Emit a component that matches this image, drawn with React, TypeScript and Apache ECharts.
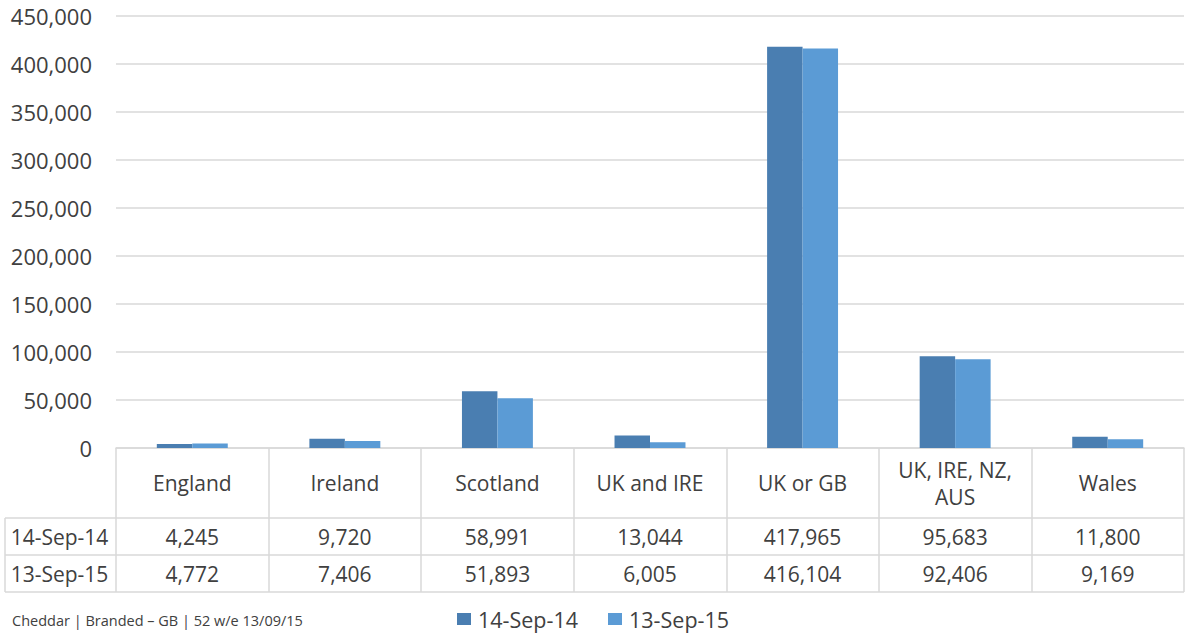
import React, { useEffect, useRef } from "react";
import * as echarts from "echarts";

const categories = ["England", "Ireland", "Scotland", "UK and IRE", "UK or GB", "UK, IRE, NZ, AUS", "Wales"];
const headerLines = [["England"], ["Ireland"], ["Scotland"], ["UK and IRE"], ["UK or GB"], ["UK, IRE, NZ,", "AUS"], ["Wales"]];
const seriesNames = ["14-Sep-14", "13-Sep-15"];
const sep14 = [4245, 9720, 58991, 13044, 417965, 95683, 11800];
const sep15 = [4772, 7406, 51893, 6005, 416104, 92406, 9169];
const footnote = "Cheddar | Branded \u2013 GB | 52 w/e 13/09/15";

const FONT = "'Open Sans', sans-serif";
const TEXT = "#404040";
const LINE = "#d9d9d9";
const DARK = "#4a7eb1";
const LIGHT = "#5b9bd5";

const fmt = (v: number) => v.toLocaleString("en-US");

export default function App() {
  const ref = useRef<HTMLDivElement>(null);

  useEffect(() => {
    document.body.style.margin = "0";
    if (!ref.current) return;
    const chart = echarts.init(ref.current, null, { renderer: "svg" });

    const gridLeft = 116;
    const gridRight = 2;
    const axisY = 448;
    const rowH = 37;
    const headH = 70;
    const wrapH = 27;
    const wrapPad = (headH - wrapH * 2) / 2;
    const tableBottom = axisY + headH + rowH * 2;

    chart.setOption({
      animation: false,
      textStyle: { fontFamily: FONT },
      grid: { left: gridLeft, right: gridRight, top: 16, bottom: 637 - axisY, containLabel: false },
      legend: {
        data: seriesNames,
        left: 457,
        top: 608,
        padding: 0,
        itemWidth: 14,
        itemHeight: 12,
        itemGap: 30,
        icon: "rect",
        textStyle: { fontSize: 21.5, color: TEXT, fontFamily: FONT, padding: [0, 0, 0, 2] },
      },
      xAxis: {
        type: "category",
        data: categories,
        axisLine: { lineStyle: { color: LINE, width: 1.5 } },
        axisTick: { show: true, alignWithLabel: false, length: tableBottom - axisY, lineStyle: { color: LINE, width: 1.5 } },
        axisLabel: {
          interval: 0,
          margin: 0,
          hideOverlap: false,
          formatter: (_v: string, i: number) => {
            const h = headerLines[i];
            const head =
              h.length === 1
                ? `{h|${h[0]}}`
                : `{gap| }\n{hw|${h[0]}}\n{hw|${h[1]}}\n{gap| }`;
            return `${head}\n{v|${fmt(sep14[i])}}\n{v|${fmt(sep15[i])}}`;
          },
          rich: {
            h: { fontSize: 21, lineHeight: headH, color: TEXT, fontFamily: FONT },
            hw: { fontSize: 21, lineHeight: wrapH, color: TEXT, fontFamily: FONT },
            gap: { fontSize: 4, lineHeight: wrapPad, color: TEXT, fontFamily: FONT },
            v: { fontSize: 21, lineHeight: rowH, color: TEXT, fontFamily: FONT },
          },
        },
      },
      yAxis: {
        type: "value",
        min: 0,
        max: 450000,
        interval: 50000,
        axisLine: { show: false },
        axisTick: { show: false },
        axisLabel: { fontSize: 22, color: TEXT, fontFamily: FONT, margin: 24, formatter: (v: number) => fmt(v) },
        splitLine: { lineStyle: { color: LINE, width: 1.5 } },
      },
      series: [
        { name: seriesNames[0], type: "bar", data: sep14, itemStyle: { color: DARK }, barGap: "0%", barCategoryGap: "53.5%" },
        { name: seriesNames[1], type: "bar", data: sep15, itemStyle: { color: LIGHT }, barGap: "0%", barCategoryGap: "53.5%" },
      ],
      graphic: [
        ...[axisY + headH, axisY + headH + rowH, tableBottom].map((y) => ({
          type: "line",
          shape: { x1: 5, y1: y, x2: 1186 - gridRight, y2: y },
          style: { stroke: LINE, lineWidth: 1.5 },
          silent: true,
        })),
        {
          type: "line",
          shape: { x1: 5, y1: axisY + headH, x2: 5, y2: tableBottom },
          style: { stroke: LINE, lineWidth: 1.5 },
          silent: true,
        },
        ...seriesNames.map((name, i) => ({
          type: "text",
          x: (5 + gridLeft) / 2 - 1,
          y: axisY + headH + rowH * i + rowH / 2,
          style: { text: name, fontSize: 21, fill: TEXT, fontFamily: FONT, align: "center", verticalAlign: "middle" },
          silent: true,
        })),
        {
          type: "text",
          x: 12,
          y: 620,
          style: { text: footnote, fontSize: 14.5, fill: TEXT, fontFamily: FONT, align: "left", verticalAlign: "middle" },
          silent: true,
        },
      ],
    });

    return () => chart.dispose();
  }, []);

  return <div ref={ref} style={{ width: 1186, height: 637 }} />;
}
